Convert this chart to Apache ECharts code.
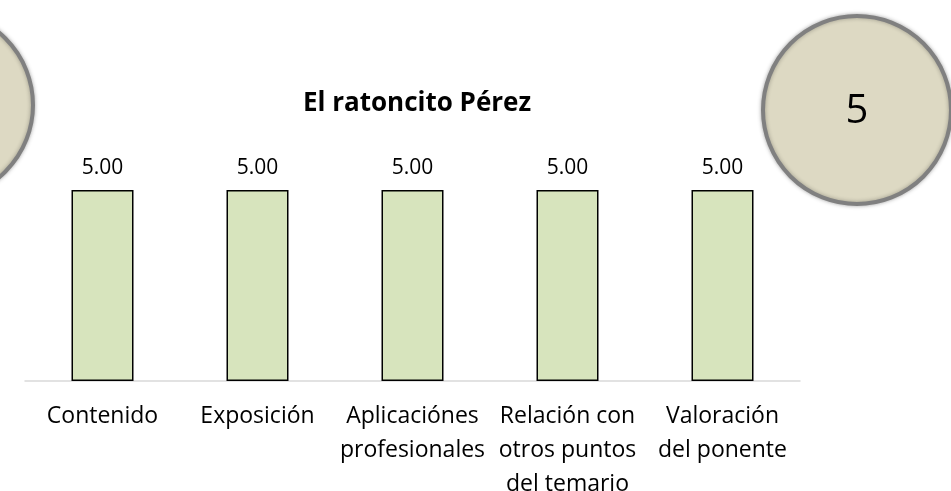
<!DOCTYPE html>
<html>
<head>
<meta charset="utf-8">
<script src="https://cdn.jsdelivr.net/npm/echarts@6/dist/echarts.min.js"></script>
<style>
  html, body { margin: 0; padding: 0; background: #fff; }
  #chart { width: 951px; height: 491px; }
</style>
</head>
<body>
<div id="chart"></div>
<script>
// datos
var categorias = ['Contenido', 'Exposición', 'Aplicaciónes\nprofesionales', 'Relación con\notros puntos\ndel temario', 'Valoración\ndel ponente'];
var valores = [5, 5, 5, 5, 5];
var notaMedia = '5';

var myChart = echarts.init(document.getElementById('chart'));

var fuente = '"Open Sans", "Noto Sans", sans-serif';

var option = {
    animation: false,
    title: {
        text: 'El ratoncito Pérez',
        left: 412,
        top: 86,
        textAlign: 'center',
        textStyle: { fontFamily: fuente, fontSize: 26, fontWeight: 'bold', color: '#000' }
    },
    grid: { left: 25, right: 151, top: 190, bottom: 110, outerBoundsMode: 'none', containLabel: false },
    xAxis: {
        type: 'category',
        data: categorias,
        axisLine: { lineStyle: { color: '#d9d9d9', width: 1.5 } },
        axisTick: { show: false },
        axisLabel: {
            interval: 0,
            margin: 18,
            fontFamily: fuente,
            fontSize: 23,
            lineHeight: 34,
            color: '#000'
        }
    },
    yAxis: {
        type: 'value',
        min: 0,
        max: 5,
        show: false
    },
    series: [{
        type: 'bar',
        data: valores,
        barWidth: '40%',
        itemStyle: { color: '#d7e4bd', borderColor: '#000', borderWidth: 1.5 },
        label: {
            show: true,
            position: 'top',
            distance: 11,
            fontFamily: fuente,
            fontSize: 21,
            color: '#000',
            formatter: function (p) { return p.value.toFixed(2); }
        }
    }],
    graphic: [
        {
            type: 'circle',
            shape: { cx: -61, cy: 105, r: 94 },
            style: { fill: '#ddd9c3', stroke: '#808080', lineWidth: 4, shadowBlur: 4, shadowColor: 'rgba(0,0,0,0.3)' }
        },
        {
            type: 'circle',
            shape: { cx: 857, cy: 110, r: 94 },
            style: { fill: '#ddd9c3', stroke: '#808080', lineWidth: 4, shadowBlur: 4, shadowColor: 'rgba(0,0,0,0.3)' }
        },
        {
            type: 'text',
            x: 857,
            y: 112,
            style: {
                text: notaMedia,
                fontFamily: fuente,
                fontSize: 40,
                fill: '#000',
                align: 'center',
                verticalAlign: 'middle'
            }
        }
    ]
};

myChart.setOption(option);
</script>
</body>
</html>
